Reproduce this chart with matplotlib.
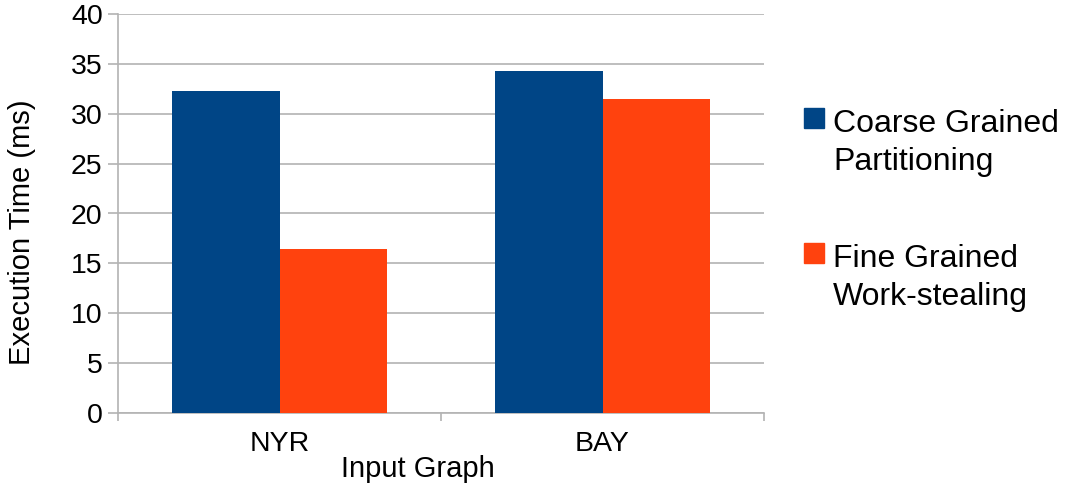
import matplotlib.pyplot as plt
from matplotlib.patches import Rectangle
import numpy as np

plt.rcParams['font.family'] = ['Liberation Sans', 'DejaVu Sans']

graphs = ['NYR', 'BAY']
coarse = [32.33, 34.33]
fine = [16.43, 31.43]
series_names = ['Coarse Grained\nPartitioning', 'Fine Grained\nWork-stealing']
colors = ['#004586', '#ff420e']
yticks = [0, 5, 10, 15, 20, 25, 30, 35, 40]

fig = plt.figure(figsize=(10.7, 4.86), dpi=100)
ax = fig.add_axes([118 / 1070, 73 / 486, 646 / 1070, 399 / 486])

x = np.arange(len(graphs))
w = 1 / 3
ax.bar(x - w / 2, coarse, w, color=colors[0], zorder=3)
ax.bar(x + w / 2, fine, w, color=colors[1], zorder=3)

ax.set_xlim(-0.5, len(graphs) - 0.5)
ax.set_ylim(0, 40)
ax.set_yticks(yticks)
ax.set_yticklabels([str(v) for v in yticks], fontsize=20.5)
ax.yaxis.grid(True, color='#b3b3b3', linewidth=1.2, zorder=0)

# category labels in the middle, tick marks on the category borders
ax.set_xticks(x)
ax.set_xticklabels(graphs, fontsize=20.5)
ax.tick_params(axis='x', length=0, pad=13)
ax.set_xticks(np.arange(-0.5, len(graphs)), minor=True)
ax.tick_params(axis='x', which='minor', length=6, color='#b3b3b3', width=1.2)
ax.tick_params(axis='y', length=7, color='#b3b3b3', width=1.2, pad=4)

for s in ['top', 'right']:
    ax.spines[s].set_visible(False)
for s in ['left', 'bottom']:
    ax.spines[s].set_color('#b3b3b3')
    ax.spines[s].set_linewidth(1.2)

ax.set_xlabel('Input Graph', fontsize=21)
ax.xaxis.set_label_coords(0.4636, -0.106)
ax.set_ylabel('Execution Time (ms)', fontsize=21)
ax.yaxis.set_label_coords(-0.149, 0.4536)
ax.yaxis.label.set_va('center')

# legend on the right, square aligned with the first text line
for i, (name, c) in enumerate(zip(series_names, colors)):
    top = 108 + i * 135
    fig.add_artist(Rectangle((804 / 1070, 1 - (top + 20) / 486), 20 / 1070, 20 / 486,
                             transform=fig.transFigure, color=c))
    fig.text(833 / 1070, 1 - (top + 62) / 486, name, fontsize=23,
             va='baseline', ha='left', linespacing=1.35)

fig.savefig('out.png', dpi=100)
